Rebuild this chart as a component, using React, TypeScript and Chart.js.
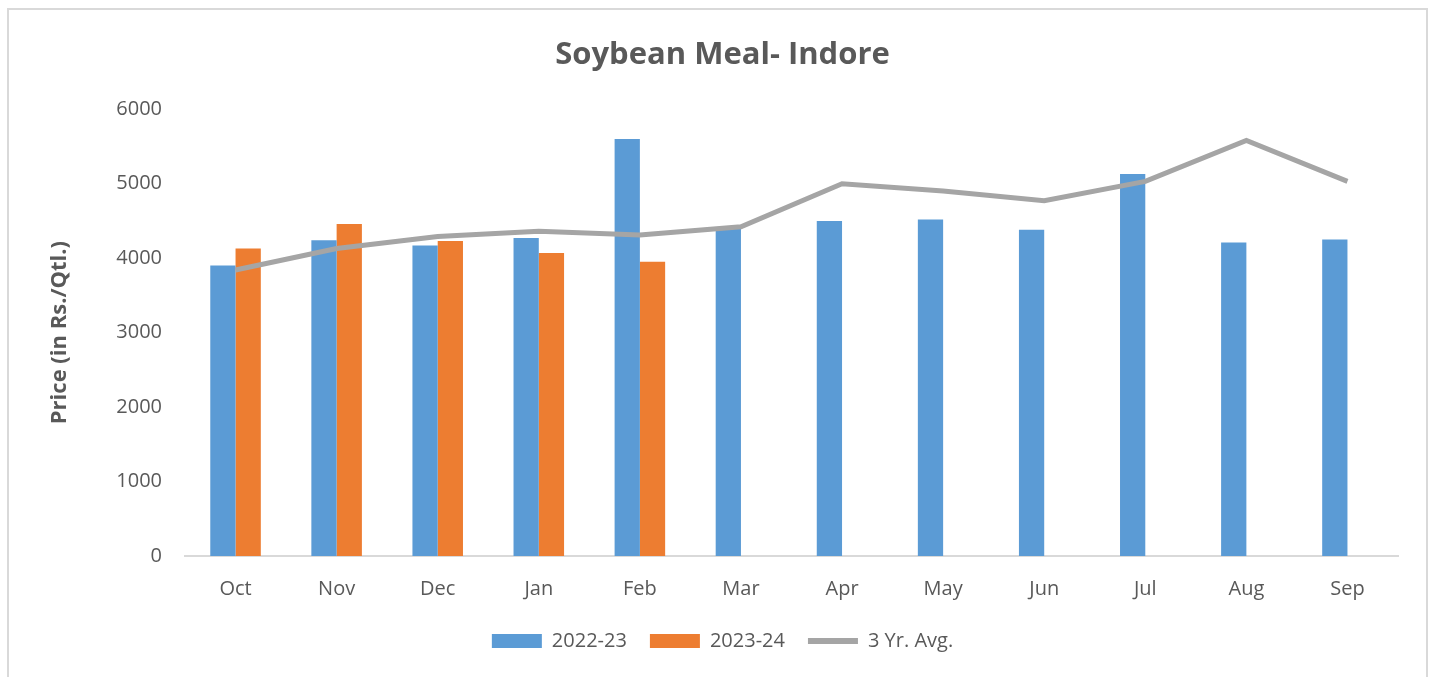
import React, { useEffect, useRef } from "react";
import { Chart, registerables } from "chart.js";

Chart.register(...registerables);

const categories = ["Oct", "Nov", "Dec", "Jan", "Feb", "Mar", "Apr", "May", "Jun", "Jul", "Aug", "Sep"];
const series2022 = [3900, 4240, 4170, 4270, 5600, 4390, 4500, 4520, 4380, 5130, 4210, 4250];
const series2023 = [4130, 4460, 4230, 4070, 3950, null, null, null, null, null, null, null];
const avg3yr = [3840, 4130, 4290, 4360, 4310, 4420, 5000, 4900, 4770, 5030, 5580, 5030];
const seriesNames = ["2022-23", "2023-24", "3 Yr. Avg."];
const chartTitle = "Soybean Meal- Indore";
const yAxisTitle = "Price (in Rs./Qtl.)";

const FONT = "'Open Sans', sans-serif";
const TEXT = "#595959";

export default function App() {
  const ref = useRef<HTMLCanvasElement | null>(null);

  useEffect(() => {
    document.body.style.margin = "0";
    document.body.style.overflow = "hidden";
    if (!ref.current) return;
    const chart = new Chart(ref.current, {
      data: {
        labels: categories,
        datasets: [
          {
            type: "bar",
            label: seriesNames[0],
            data: series2022,
            backgroundColor: "#5b9bd5",
            borderWidth: 0,
            categoryPercentage: 0.5,
            barPercentage: 1,
            order: 1,
          },
          {
            type: "bar",
            label: seriesNames[1],
            data: series2023 as any,
            backgroundColor: "#ed7d31",
            borderWidth: 0,
            categoryPercentage: 0.5,
            barPercentage: 1,
            order: 2,
          },
          {
            type: "line",
            label: seriesNames[2],
            data: avg3yr,
            borderColor: "#a5a5a5",
            backgroundColor: "#a5a5a5",
            borderWidth: 5,
            pointRadius: 0,
            pointStyle: "line",
            tension: 0,
            order: 0,
          },
        ],
      },
      options: {
        responsive: false,
        animation: false,
        layout: { padding: { left: 38, right: 28, top: 10, bottom: 16 } },
        plugins: {
          tooltip: { enabled: false },
          title: {
            display: true,
            text: chartTitle,
            color: TEXT,
            font: { family: FONT, size: 31, weight: "bold" },
            padding: { top: 17, bottom: 35 },
          },
          legend: {
            position: "bottom",
            labels: {
              color: TEXT,
              font: { family: FONT, size: 20 },
              usePointStyle: true,
              pointStyleWidth: 50,
              boxWidth: 50,
              boxHeight: 14,
              padding: 23,
              sort: (a: any, b: any) => a.datasetIndex - b.datasetIndex,
              generateLabels: (c: any) => {
                const items = Chart.defaults.plugins.legend.labels.generateLabels(c);
                return items.map((it: any) => {
                  if (it.datasetIndex === 2) {
                    return { ...it, pointStyle: "line", lineWidth: 6, strokeStyle: "#a5a5a5" };
                  }
                  return { ...it, pointStyle: "rect", lineWidth: 0 };
                });
              },
            },
          },
        },
        scales: {
          x: {
            grid: { display: false, drawTicks: false },
            border: { display: true, color: "#d9d9d9", width: 2 },
            ticks: { color: TEXT, font: { family: FONT, size: 20 }, padding: 21 },
            afterFit: (s: any) => {
              s.height = 52;
            },
          },
          y: {
            min: 0,
            max: 6000,
            grid: { display: false, drawTicks: false },
            border: { display: false },
            ticks: {
              stepSize: 1000,
              color: TEXT,
              font: { family: FONT, size: 20 },
              padding: 23,
              callback: (v: any) => String(v),
            },
            title: {
              display: true,
              text: yAxisTitle,
              color: TEXT,
              font: { family: FONT, size: 22, weight: "bold" },
              padding: 0,
            },
            afterFit: (s: any) => {
              s.width = 138;
            },
          },
        },
      },
    } as any);
    return () => chart.destroy();
  }, []);

  return (
    <div
      style={{
        position: "absolute",
        left: 7,
        top: 8,
        width: 1421,
        height: 669,
        borderTop: "2px solid #d9d9d9",
        borderLeft: "2px solid #d9d9d9",
        borderRight: "2px solid #d9d9d9",
        boxSizing: "border-box",
        background: "#fff",
      }}
    >
      <canvas ref={ref} width={1417} height={667} style={{ display: "block" }} />
    </div>
  );
}
